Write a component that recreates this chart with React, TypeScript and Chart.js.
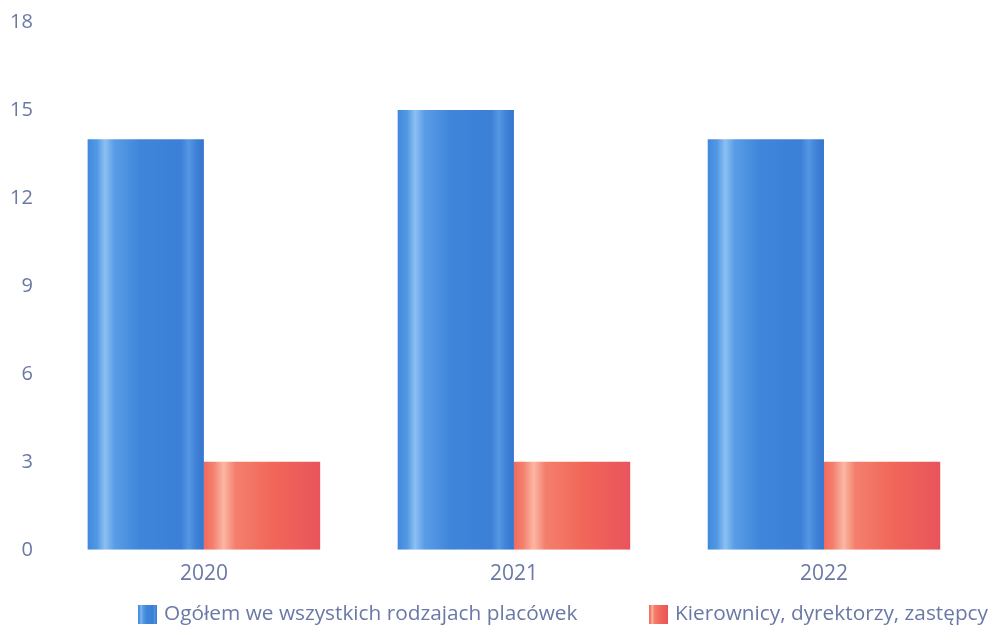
import React, { useEffect, useRef } from "react";
import { Chart, registerables } from "chart.js";

Chart.register(...registerables);

const categories = ["2020", "2021", "2022"];
const seriesTotalLabel = "Ogółem we wszystkich rodzajach placówek";
const seriesTotal = [14, 15, 14];
const seriesHeadsLabel = "Kierownicy, dyrektorzy, zastępcy";
const seriesHeads = [3, 3, 3];
const yTicks = [0, 3, 6, 9, 12, 15, 18];

const blueStops: [number, string][] = [
  [0, "#4189dc"],
  [0.08, "#5298e4"],
  [0.15, "#8cc0f1"],
  [0.23, "#5a9de6"],
  [0.45, "#3f86da"],
  [0.8, "#3b7fd7"],
  [0.87, "#5597e2"],
  [0.93, "#4083d8"],
  [1, "#3775cf"],
];
const redStops: [number, string][] = [
  [0, "#f26a5c"],
  [0.08, "#f4806f"],
  [0.17, "#fbb7a4"],
  [0.27, "#f47f6d"],
  [0.6, "#f16659"],
  [1, "#e9545c"],
];

const TEXT = "#6a78a6";
const FONT = "'Open Sans', 'Noto Sans', sans-serif";
const CANVAS_W = 993;
const CANVAS_H = 626;

function makeGrad(ctx: CanvasRenderingContext2D, x0: number, x1: number, stops: [number, string][]) {
  const g = ctx.createLinearGradient(x0, 0, x1, 0);
  stops.forEach(([o, c]) => g.addColorStop(o, c));
  return g;
}

function legendImage(stops: [number, string][]) {
  const c = document.createElement("canvas");
  c.width = 19;
  c.height = 19;
  const cx = c.getContext("2d")!;
  cx.fillStyle = makeGrad(cx, 0, 19, stops);
  cx.fillRect(0, 0, 19, 19);
  return c;
}

function barGradient(stops: [number, string][], dsIndex: number) {
  return (context: any) => {
    const chart = context.chart;
    const xs = chart.scales?.x;
    if (!xs || context.dataIndex === undefined) return stops[4][1];
    const center = xs.getPixelForValue(context.dataIndex);
    const catW = (xs.right - xs.left) / categories.length;
    const groupW = catW * 0.75;
    const barW = groupW / 2;
    const x0 = center - groupW / 2 + dsIndex * barW;
    if (!isFinite(x0) || !isFinite(barW) || barW <= 0) return stops[4][1];
    return makeGrad(chart.ctx, x0, x0 + barW, stops);
  };
}

export default function App() {
  const ref = useRef<HTMLCanvasElement | null>(null);
  useEffect(() => {
    if (!ref.current) return;
    const images = [legendImage(blueStops), legendImage(redStops)];
    const gaps = ["             ", ""];
    const chart = new Chart(ref.current, {
      type: "bar",
      data: {
        labels: categories,
        datasets: [
          {
            label: seriesTotalLabel,
            data: seriesTotal,
            backgroundColor: barGradient(blueStops, 0),
            borderWidth: 0,
          },
          {
            label: seriesHeadsLabel,
            data: seriesHeads,
            backgroundColor: barGradient(redStops, 1),
            borderWidth: 0,
          },
        ],
      },
      options: {
        animation: false,
        responsive: true,
        maintainAspectRatio: false,
        layout: { padding: { top: 2, left: -6, right: 0, bottom: 0 } },
        datasets: { bar: { categoryPercentage: 0.75, barPercentage: 1 } },
        plugins: {
          tooltip: { enabled: false },
          legend: {
            position: "bottom",
            align: "end",
            maxHeight: 27,
            labels: {
              usePointStyle: true,
              pointStyleWidth: 12,
              padding: 5,
              color: TEXT,
              font: { family: FONT, size: 20.8 },
              generateLabels: (ch: any) =>
                ch.data.datasets.map((ds: any, i: number) => ({
                  text: ds.label + gaps[i],
                  fillStyle: "transparent",
                  strokeStyle: "transparent",
                  lineWidth: 0,
                  pointStyle: images[i],
                  hidden: !ch.isDatasetVisible(i),
                  datasetIndex: i,
                  fontColor: TEXT,
                })),
            },
          },
        },
        scales: {
          x: {
            grid: { display: false, drawTicks: false },
            border: { display: false },
            ticks: { color: TEXT, font: { family: FONT, size: 21 }, padding: 12 },
          },
          y: {
            min: 0,
            max: 18,
            afterBuildTicks: (axis: any) => {
              axis.ticks = yTicks.map((v) => ({ value: v }));
            },
            afterFit: (axis: any) => {
              axis.paddingTop = 22;
            },
            grid: { display: false, drawTicks: false },
            border: { display: false },
            ticks: { color: TEXT, font: { family: FONT, size: 20 }, padding: 16 },
          },
          yRight: {
            position: "right",
            min: 0,
            max: 18,
            afterFit: (axis: any) => {
              axis.width = CANVAS_W - 979;
            },
            grid: { display: false, drawTicks: false },
            border: { display: false },
            ticks: { display: false },
          },
        },
      },
    });
    return () => chart.destroy();
  }, []);
  return (
    <div style={{ position: "fixed", left: 0, top: 0, width: 992, height: CANVAS_H, overflow: "hidden", background: "#fff" }}>
      <div style={{ position: "relative", width: CANVAS_W, height: CANVAS_H }}>
        <canvas ref={ref} />
      </div>
    </div>
  );
}
